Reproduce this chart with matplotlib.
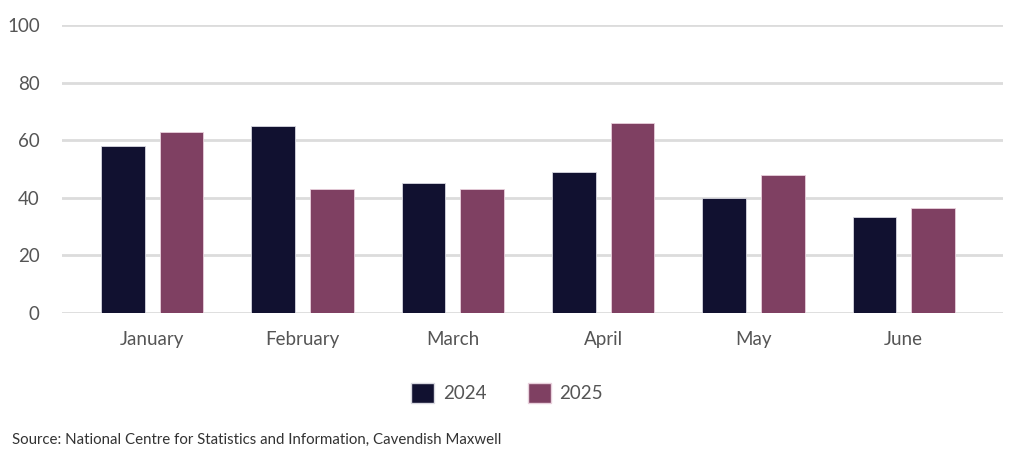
import matplotlib.pyplot as plt
import numpy as np
from matplotlib.patches import Patch

plt.rcParams['font.family'] = ['Lato', 'DejaVu Sans']

months = ['January', 'February', 'March', 'April', 'May', 'June']
values_2024 = [58, 65, 45, 49, 40, 33.5]
values_2025 = [63, 43, 43, 66, 48, 36.5]

navy = '#111130'
maroon = '#7f4062'
grey_text = '#555555'

fig = plt.figure(figsize=(10.24, 4.57), dpi=100)
ax = fig.add_axes([62 / 1024, 1 - 313 / 457, 941 / 1024, 288 / 457])

x = np.arange(len(months))
w = 0.29
off = 0.195
ax.bar(x - off, values_2024, w, color=navy, edgecolor='#d8d8e0', linewidth=0.6, zorder=3)
ax.bar(x + off, values_2025, w, color=maroon, edgecolor='#e8d0dc', linewidth=0.6, zorder=3)

ax.set_ylim(0, 100)
ax.set_xlim(-0.6, 5.66)
ax.set_yticks([0, 20, 40, 60, 80, 100])
ax.yaxis.grid(True, color='#dcdcdc', linewidth=2, zorder=0)
ax.set_axisbelow(True)
for s in ax.spines.values():
    s.set_visible(False)
ax.tick_params(axis='both', length=0, labelsize=13.5, labelcolor=grey_text)
ax.tick_params(axis='y', pad=16)
ax.tick_params(axis='x', pad=13)
ax.set_xticks(x)
ax.set_xticklabels(months)

handles = [Patch(facecolor=navy, edgecolor='#d8d8e0', label='2024'),
           Patch(facecolor=maroon, edgecolor='#e8d0dc', label='2025')]
fig.legend(handles=handles, loc='center', bbox_to_anchor=(507 / 1024, 1 - 393 / 457),
           ncol=2, frameon=False, fontsize=13.5, handlelength=1.25, handleheight=1.25,
           columnspacing=2.2, handletextpad=0.45, labelcolor=grey_text)

fig.text(12 / 1024, 1 - 440 / 457, 'Source: National Centre for Statistics and Information, Cavendish Maxwell',
         fontsize=10.8, color='#333333', va='center')

plt.savefig('out.png', dpi=100)
